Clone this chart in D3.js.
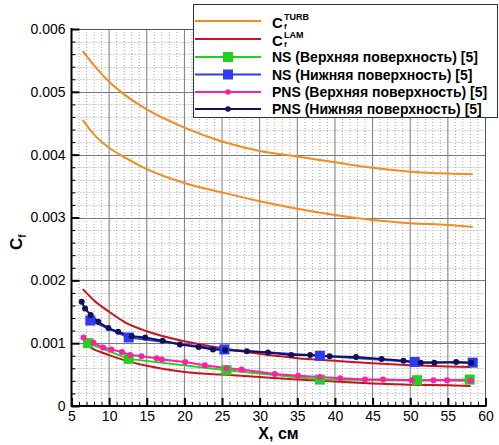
<!DOCTYPE html>
<html>
<head>
<meta charset="utf-8">
<script src="https://cdn.jsdelivr.net/npm/d3@7"></script>
<style>
  html, body { margin: 0; padding: 0; background: #fff; }
  svg { display: block; font-family: "Liberation Sans", Arial, sans-serif; }
</style>
</head>
<body>
<svg id="chart" width="499" height="445"></svg>
<script>
// Skin-friction coefficient along the plate, analytic estimates and computations
const xTicks = [5, 10, 15, 20, 25, 30, 35, 40, 45, 50, 55, 60];
const yTicks = [0, 0.001, 0.002, 0.003, 0.004, 0.005, 0.006];

// Turbulent estimate (two curves)
const turbX      = [6.5, 8, 10, 12, 15, 20, 25, 30, 35, 40, 45, 50, 55, 58.3];
const turbUpper  = [0.00565, 0.00542, 0.00516, 0.00496, 0.00472, 0.00443, 0.00421, 0.00406, 0.00397, 0.00388, 0.00379, 0.00373, 0.00370, 0.00369];
const turbLower  = [0.00455, 0.00432, 0.00411, 0.00396, 0.00377, 0.00355, 0.00340, 0.00326, 0.00314, 0.00304, 0.00296, 0.00291, 0.00288, 0.00285];

// Laminar estimate (two curves)
const lamX       = [6.5, 8, 10, 12, 15, 20, 25, 30, 35, 40, 45, 50, 55, 58];
const lamUpper   = [0.00186, 0.00168, 0.00150, 0.00134, 0.00119, 0.00103, 0.00092, 0.00083, 0.00076, 0.00072, 0.00068, 0.00065, 0.00063, 0.00062];
const lamLower   = [0.00100, 0.00090, 0.00081, 0.00073, 0.00064, 0.00054, 0.00050, 0.00046, 0.00042, 0.00039, 0.00036, 0.00034, 0.00033, 0.00032];

// NS, upper surface [5]
const nsUpX  = [7.2, 12.6, 25.6, 38.0, 50.9, 57.9];
const nsUpCf = [0.00100, 0.00075, 0.00057, 0.00042, 0.00041, 0.00042];

// NS, lower surface [5]
const nsLoX  = [7.5, 12.6, 25.3, 38.0, 50.6, 58.3];
const nsLoCf = [0.00136, 0.00109, 0.00090, 0.00080, 0.00070, 0.00069];

// PNS, upper surface [5]
const pnsUpX  = [6.6, 7.9, 9.2, 10.3, 11.7, 12.8, 14.3, 16.3, 17.0, 20.1, 22.7, 25.6, 27.6, 32.0, 35.1, 38.0, 40.7, 44.0, 46.4, 50.2, 53.1, 54.9, 58.0];
const pnsUpCf = [0.00109, 0.00101, 0.00093, 0.00090, 0.00086, 0.00081, 0.00079, 0.00076, 0.00074, 0.00070, 0.00065, 0.00060, 0.00058, 0.00051, 0.00048, 0.00046, 0.00044, 0.00042, 0.00042, 0.00041, 0.00041, 0.00041, 0.00040];

// PNS, lower surface [5]
const pnsLoX  = [6.35, 6.8, 7.55, 8.55, 9.9, 11.2, 13.0, 14.8, 17.1, 19.4, 21.9, 23.8, 25.4, 28.3, 31.1, 34.2, 36.7, 39.3, 42.8, 46.2, 49.1, 51.4, 53.2, 56.1, 58.1];
const pnsLoCf = [0.00166, 0.00155, 0.00145, 0.00134, 0.00124, 0.00118, 0.00111, 0.00109, 0.00104, 0.00098, 0.00094, 0.00090, 0.00089, 0.00087, 0.00085, 0.00081, 0.00081, 0.00079, 0.00078, 0.00075, 0.00072, 0.00069, 0.00069, 0.00070, 0.00069];

const C_TURB = "#f58a1f", C_LAM = "#c8141e", C_NSU = "#1ed21e", C_NSL = "#2d3cf0", C_PNSU = "#ff1fa5", C_PNSL = "#10105e";

const svg = d3.select("#chart");
const pLeft = 71.5, pRight = 485.5, pTop = 29, pBottom = 406;
const x = d3.scaleLinear().domain([5, 60]).range([pLeft, pRight]);
const y = d3.scaleLinear().domain([0, 0.006]).range([pBottom, pTop]);

// minor grid (dotted)
const g = svg.append("g");
d3.range(5, 61, 1).filter(v => v % 5 !== 0).forEach(v => {
  g.append("line").attr("x1", x(v)).attr("x2", x(v)).attr("y1", pTop).attr("y2", pBottom)
    .attr("stroke", "#a9a9a9").attr("stroke-width", 1).attr("stroke-dasharray", "1,2");
});
d3.range(0, 0.00601, 0.0002).forEach(v => {
  if (Math.abs(v * 1000 - Math.round(v * 1000)) < 1e-9) return;
  g.append("line").attr("x1", pLeft).attr("x2", pRight).attr("y1", Math.round(y(v)) + 0.5).attr("y2", Math.round(y(v)) + 0.5)
    .attr("stroke", "#a9a9a9").attr("stroke-width", 1).attr("stroke-dasharray", "1,2");
});
// major grid
xTicks.forEach(v => {
  g.append("line").attr("x1", x(v)).attr("x2", x(v)).attr("y1", pTop).attr("y2", pBottom)
    .attr("stroke", "#7a7a7a").attr("stroke-width", 1);
});
yTicks.forEach(v => {
  g.append("line").attr("x1", pLeft).attr("x2", pRight).attr("y1", Math.round(y(v)) + 0.5).attr("y2", Math.round(y(v)) + 0.5)
    .attr("stroke", "#7a7a7a").attr("stroke-width", 1);
});

// curves
const smooth = d3.line().x(d => x(d[0])).y(d => y(d[1])).curve(d3.curveMonotoneX);
const straight = d3.line().x(d => x(d[0])).y(d => y(d[1]));
const zip = (a, b) => a.map((v, i) => [v, b[i]]);

function curve(xs, ys, color, gen) {
  svg.append("path").datum(zip(xs, ys)).attr("d", gen).attr("fill", "none")
    .attr("stroke", color).attr("stroke-width", 2).attr("stroke-linejoin", "round");
}
curve(turbX, turbUpper, C_TURB, smooth);
curve(turbX, turbLower, C_TURB, smooth);
curve(lamX, lamUpper, C_LAM, smooth);
curve(lamX, lamLower, C_LAM, smooth);
curve(nsUpX, nsUpCf, C_NSU, straight);
curve(nsLoX, nsLoCf, C_NSL, straight);
curve(pnsUpX, pnsUpCf, C_PNSU, straight);
curve(pnsLoX, pnsLoCf, C_PNSL, straight);

function squares(xs, ys, color, size) {
  svg.append("g").selectAll("rect").data(zip(xs, ys)).join("rect")
    .attr("x", d => x(d[0]) - size / 2).attr("y", d => y(d[1]) - size / 2)
    .attr("width", size).attr("height", size).attr("fill", color);
}
function dots(xs, ys, color, r) {
  svg.append("g").selectAll("circle").data(zip(xs, ys)).join("circle")
    .attr("cx", d => x(d[0])).attr("cy", d => y(d[1])).attr("r", r).attr("fill", color);
}
squares(nsUpX, nsUpCf, C_NSU, 10);
squares(nsLoX, nsLoCf, C_NSL, 10);
dots(pnsUpX, pnsUpCf, C_PNSU, 3);
dots(pnsLoX, pnsLoCf, C_PNSL, 3);

// frame
svg.append("line").attr("x1", pLeft).attr("x2", pRight).attr("y1", pTop + 0.5).attr("y2", pTop + 0.5).attr("stroke", "#555").attr("stroke-width", 1);
svg.append("line").attr("x1", pRight).attr("x2", pRight).attr("y1", pTop).attr("y2", pBottom).attr("stroke", "#555").attr("stroke-width", 1);

// axes
const xAxis = svg.append("g").attr("transform", `translate(0,${pBottom})`);
xAxis.call(d3.axisBottom(x).tickValues(d3.range(5, 61, 1)).tickSize(-4).tickFormat(""))
  .call(s => s.select(".domain").remove())
  .call(s => s.selectAll("line").attr("stroke", "#000").attr("stroke-width", 1));
xAxis.append("g").call(d3.axisBottom(x).tickValues(xTicks).tickSize(-8).tickPadding(5))
  .call(s => s.select(".domain").remove())
  .call(s => s.selectAll("line").attr("stroke", "#000").attr("stroke-width", 2))
  .call(s => s.selectAll("text").attr("font-size", 14).attr("fill", "#000").attr("font-family", "Liberation Sans, Arial, sans-serif"));

const yAxis = svg.append("g").attr("transform", `translate(${pLeft},0)`);
yAxis.call(d3.axisLeft(y).tickValues(d3.range(0, 0.00601, 0.0002)).tickSize(-4).tickFormat(""))
  .call(s => s.select(".domain").remove())
  .call(s => s.selectAll("line").attr("stroke", "#000").attr("stroke-width", 1));
yAxis.append("g").call(d3.axisLeft(y).tickValues(yTicks).tickSize(-8).tickPadding(6)
    .tickFormat(d => d === 0 ? "0" : d3.format(".3f")(d)))
  .call(s => s.select(".domain").remove())
  .call(s => s.selectAll("line").attr("stroke", "#000").attr("stroke-width", 2))
  .call(s => s.selectAll("text").attr("font-size", 14).attr("fill", "#000").attr("font-family", "Liberation Sans, Arial, sans-serif"));

svg.append("line").attr("x1", pLeft).attr("x2", pRight + 1).attr("y1", pBottom).attr("y2", pBottom).attr("stroke", "#000").attr("stroke-width", 2);
svg.append("line").attr("x1", pLeft).attr("x2", pLeft).attr("y1", pTop - 1).attr("y2", pBottom + 1).attr("stroke", "#000").attr("stroke-width", 2);

// axis titles
svg.append("text").attr("x", (pLeft + pRight) / 2).attr("y", 439).attr("text-anchor", "middle")
  .attr("font-size", 16).attr("font-weight", "bold").text("X, см");
const yt = svg.append("text").attr("transform", "translate(22,250) rotate(-90)")
  .attr("font-size", 17).attr("font-weight", "bold");
yt.append("tspan").text("C");
yt.append("tspan").attr("font-size", 10).attr("dy", 4).text("f");

// legend
const lg = svg.append("g");
lg.append("rect").attr("x", 193.5).attr("y", 4.5).attr("width", 304).attr("height", 113)
  .attr("fill", "#fff").attr("stroke", "#333").attr("stroke-width", 1);
const rows = [
  { color: C_TURB, kind: "line", sup: "TURB" },
  { color: C_LAM, kind: "line", sup: "LAM" },
  { color: C_NSU, kind: "sq", label: "NS (Верхняя поверхность) [5]" },
  { color: C_NSL, kind: "sq", label: "NS (Нижняя поверхность) [5]" },
  { color: C_PNSU, kind: "dot", label: "PNS (Верхняя поверхность) [5]" },
  { color: C_PNSL, kind: "dot", label: "PNS (Нижняя поверхность) [5]" }
];
const rowY = [21, 39, 57, 74.5, 92, 109];
rows.forEach((r, i) => {
  const cy = rowY[i];
  lg.append("line").attr("x1", 195).attr("x2", 261).attr("y1", cy).attr("y2", cy)
    .attr("stroke", r.color).attr("stroke-width", 2);
  if (r.kind === "sq") lg.append("rect").attr("x", 228 - 5).attr("y", cy - 5).attr("width", 10).attr("height", 10).attr("fill", r.color);
  if (r.kind === "dot") lg.append("circle").attr("cx", 228).attr("cy", cy).attr("r", 2.8).attr("fill", r.color);
  if (r.sup) {
    lg.append("text").attr("x", 272).attr("y", cy + 7).attr("font-size", 15).attr("font-weight", "bold").text("C");
    lg.append("text").attr("x", 284).attr("y", cy - 1).attr("font-size", 9).attr("font-weight", "bold").text(r.sup);
    lg.append("text").attr("x", 284).attr("y", cy + 8).attr("font-size", 8).attr("font-weight", "bold").text("f");
  } else {
    lg.append("text").attr("x", 272).attr("y", cy + 5).attr("font-size", 14).attr("font-weight", "bold").text(r.label);
  }
});
</script>
</body>
</html>
